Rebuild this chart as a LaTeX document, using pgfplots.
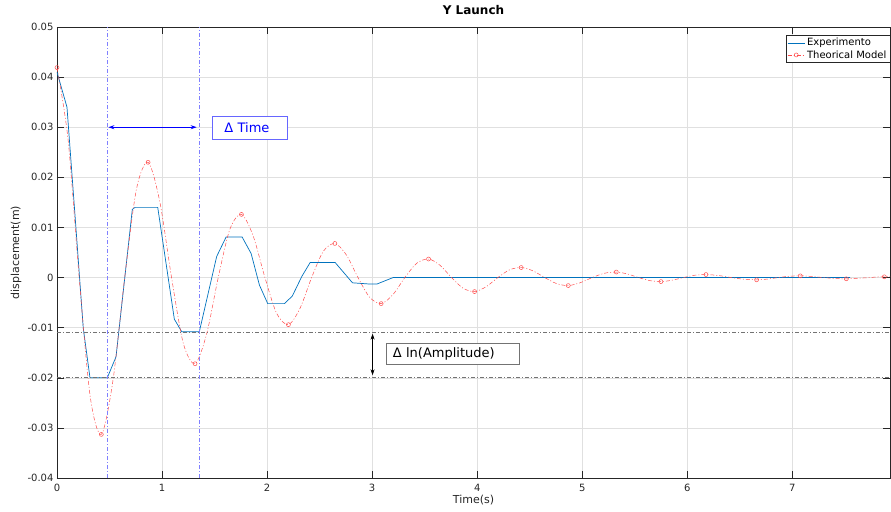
\documentclass[border=0pt]{standalone}
\usepackage{fontspec}
\setmainfont{DejaVu Sans}
\usepackage{pgfplots}
\pgfplotsset{compat=1.18}
\usetikzlibrary{calc,arrows.meta}

\definecolor{expblue}{rgb}{0,0.447,0.741}
\definecolor{modred}{rgb}{1,0.3,0.3}
\definecolor{axgray}{rgb}{0.15,0.15,0.15}
\definecolor{gridgray}{rgb}{0.88,0.88,0.88}
\definecolor{guideblue}{rgb}{0.5,0.5,1}
\definecolor{boxblue}{rgb}{0.4,0.4,1}
\definecolor{guidegray}{rgb}{0.45,0.45,0.45}

\begin{document}
\begin{tikzpicture}
\begin{axis}[
  scale only axis, width=833pt, height=451pt,
  xmin=0, xmax=7.93, ymin=-0.04, ymax=0.05,
  scaled y ticks=false, scaled x ticks=false,
  xtick={0,1,2,3,4,5,6,7},
  xticklabels={0,1,2,3,4,5,6,7},
  ytick={-0.04,-0.03,-0.02,-0.01,0,0.01,0.02,0.03,0.04,0.05},
  yticklabels={-0.04,-0.03,-0.02,-0.01,0,0.01,0.02,0.03,0.04,0.05},
  /pgf/number format/assume math mode=true,
  tick label style={font=\fontsize{10}{12}\selectfont, text=axgray},
  xticklabel style={yshift=-2.5pt},
  grid=major,
  major grid style={gridgray, line width=0.5pt},
  axis line style={axgray, line width=0.5pt},
  tick style={axgray, line width=0.5pt},
  major tick length=7pt, tick align=inside,
  title={Y Launch},
  title style={at={(axis description cs:0.5,1.0244)}, anchor=center,
    font=\fontsize{12}{14}\selectfont\bfseries, text=black},
  xlabel={Time(s)},
  xlabel style={at={(axis description cs:0.5,-0.0488)}, anchor=center,
    font=\fontsize{11}{13}\selectfont, text=axgray},
  ylabel={displacement(m)},
  ylabel style={at={(axis description cs:-0.0492,0.5)}, anchor=center,
    font=\fontsize{11}{13}\selectfont, text=axgray},
  legend style={at={(1,0.982)}, anchor=north east, draw=axgray, fill=white,
    font=\fontsize{10}{11}\selectfont, inner xsep=1.5pt, inner ysep=1pt,
    row sep=-1pt, /tikz/every even column/.append style={column sep=0pt}},
  legend cell align=left,
]
\coordinate (bl) at (rel axis cs:0,0);
\coordinate (tr) at (rel axis cs:1,1);

% measured response
\addplot[color=expblue, line width=0.7pt] coordinates {
  (0,0.041) (0.095,0.034) (0.18,0.010) (0.25,-0.0101) (0.314,-0.020)
  (0.479,-0.020) (0.562,-0.0158) (0.717,0.0136) (0.743,0.0140) (0.959,0.0140)
  (1.117,-0.0083) (1.187,-0.0108) (1.355,-0.0108) (1.52,0.0042) (1.61,0.0081)
  (1.762,0.0081) (1.848,0.0048) (1.927,-0.0015) (2.006,-0.0052) (2.165,-0.0052)
  (2.24,-0.0037) (2.33,0.0002) (2.41,0.0030) (2.648,0.0030) (2.813,-0.00105)
  (2.98,-0.0013) (3.045,-0.0013) (3.2,0) (7.55,0)
};
\addlegendentry{Experimento}

% damped oscillator model, marked at each extremum
\addplot[color=modred, line width=0.5pt, smooth,
  dash pattern=on 4pt off 2pt on 1pt off 2pt,
  mark=o, mark size=2pt, mark repeat=4, mark phase=1,
  mark options={solid, line width=0.5pt}] coordinates {
  (0,0.0419) (0.1055,0.0275) (0.211,0) (0.3165,-0.0238)
  (0.422,-0.0313) (0.533,-0.0205) (0.6445,0) (0.756,0.0176)
  (0.867,0.0230) (0.979,0.0151) (1.0905,0) (1.202,-0.0131)
  (1.314,-0.0172) (1.4245,-0.01125) (1.535,0) (1.6455,0.00963)
  (1.756,0.0126) (1.868,0.00828) (1.9795,0) (2.091,-0.00715)
  (2.203,-0.0094) (2.3135,-0.00613) (2.424,0) (2.5345,0.00521)
  (2.645,0.0068) (2.755,0.0045) (2.8655,0) (2.976,-0.00393)
  (3.086,-0.0052) (3.199,-0.00338) (3.3115,0) (3.424,0.00285)
  (3.537,0.0037) (3.6465,0.00244) (3.756,0) (3.8655,-0.00212)
  (3.975,-0.0028) (4.086,-0.00182) (4.197,0) (4.308,0.00154)
  (4.419,0.0020) (4.531,0.00134) (4.643,0) (4.755,-0.0012)
  (4.867,-0.0016) (4.981,-0.00103) (5.0955,0) (5.210,0.00085)
  (5.324,0.0011) (5.430,0.00072) (5.5365,0) (5.643,-0.00061)
  (5.749,-0.0008) (5.856,-0.00053) (5.9635,0) (6.071,0.00046)
  (6.178,0.0006) (6.2985,0.0004) (6.419,0) (6.5395,-0.00034)
  (6.66,-0.00045) (6.764,-0.0003) (6.868,0) (6.972,0.00026)
  (7.076,0.00034) (7.1855,0.00022) (7.295,0) (7.4045,-0.00019)
  (7.514,-0.00025) (7.6235,-0.00016) (7.733,0) (7.80,0.0001)
  (7.876,0.00015) (7.93,0.00017)
};
\addlegendentry{Theorical Model}

% guide lines for the period and the amplitude ratio
\addplot[color=guideblue, line width=0.9pt, dash pattern=on 4pt off 2pt on 1pt off 2pt, forget plot]
  coordinates {(0.479,-0.04) (0.479,0.05)};
\addplot[color=guideblue, line width=0.9pt, dash pattern=on 4pt off 2pt on 1pt off 2pt, forget plot]
  coordinates {(1.355,-0.04) (1.355,0.05)};
\addplot[color=guidegray, line width=0.6pt, dash pattern=on 4pt off 2pt on 1pt off 2pt, forget plot]
  coordinates {(0,-0.011) (7.93,-0.011)};
\addplot[color=guidegray, line width=0.6pt, dash pattern=on 4pt off 2pt on 1pt off 2pt, forget plot]
  coordinates {(0,-0.020) (7.93,-0.020)};

\draw[draw=blue, line width=0.8pt, {Stealth[length=6pt,width=4pt]}-{Stealth[length=6pt,width=4pt]}]
  (axis cs:0.489,0.03) -- (axis cs:1.33,0.03);
\draw[draw=black, line width=0.6pt, {Stealth[length=6pt,width=4pt]}-{Stealth[length=6pt,width=4pt]}]
  (axis cs:3.004,-0.0112) -- (axis cs:3.004,-0.0195);

\node[draw=boxblue, line width=0.8pt, fill=white, text=blue, inner xsep=12pt, inner ysep=0pt,
  text width=51pt, align=left, minimum height=23pt, font=\fontsize{13}{15}\selectfont]
  at (axis cs:1.836,0.02987) {Δ Time};
\node[draw=guidegray, line width=0.6pt, fill=white, text=black, inner xsep=7pt, inner ysep=0pt,
  text width=119.6pt, align=left, minimum height=20.7pt, font=\fontsize{13}{15}\selectfont]
  at (axis cs:3.767,-0.0152) {Δ ln(Amplitude)};
\end{axis}
\pgfresetboundingbox
\path[use as bounding box] ($(bl)+(-57pt,-34pt)$) rectangle ($(tr)+(1pt,27pt)$);
\end{tikzpicture}
\end{document}
